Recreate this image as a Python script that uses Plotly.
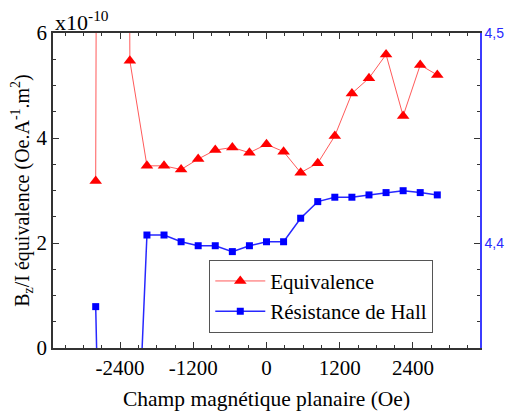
import plotly.graph_objects as go

# planar field (Oe)
field = [-2800, -2520, -2240, -1960, -1680, -1400, -1120, -840, -560, -280, 0,
         280, 560, 840, 1120, 1400, 1680, 1960, 2240, 2520, 2800]

# B_z/I equivalence (x1e-10 Oe.A^-1.m^2) - point at -2520 is off scale
equivalence = [3.18, 120.0, 5.47, 3.47, 3.47, 3.40, 3.60, 3.77, 3.82, 3.72, 3.88,
               3.74, 3.34, 3.52, 4.04, 4.85, 5.14, 5.59, 4.42, 5.39, 5.20]

# Hall resistance (right axis) - points at -2520 / -2240 are below scale
hall = [4.3697, 4.00, 4.213, 4.4038, 4.4038, 4.4006, 4.3987, 4.3987, 4.3959, 4.3987, 4.4006,
        4.4006, 4.4118, 4.4197, 4.4218, 4.4218, 4.4229, 4.4240, 4.4249, 4.4240, 4.4229]

x_ticks = [-2400, -1200, 0, 1200, 2400]
x_labels = ["-2400", "-1200", "0", "1200", "2400"]
y2_ticks = [4.4, 4.45, 4.5]
y2_labels = ["4,4", "", "4,5"]

serif = "Liberation Serif, Times New Roman, serif"

fig = go.Figure()

fig.add_trace(go.Scatter(
    x=field, y=equivalence, name="Equivalence",
    mode="lines+markers",
    line=dict(color="rgb(255,90,90)", width=1),
    marker=dict(symbol="triangle-up", color="red", size=11),
))

fig.add_trace(go.Scatter(
    x=field, y=hall, name="Résistance de Hall", yaxis="y2",
    mode="lines+markers",
    line=dict(color="rgb(40,40,255)", width=1.5),
    marker=dict(symbol="square", color="blue", size=7),
))

fig.update_layout(
    width=512, height=417,
    margin=dict(l=53, r=32, t=33, b=69),
    plot_bgcolor="white", paper_bgcolor="white",
    font=dict(family=serif, size=21, color="black"),
    showlegend=True,
    legend=dict(
        x=0.366, y=0.28, xanchor="left", yanchor="top",
        bgcolor="white", bordercolor="#555", borderwidth=1,
        font=dict(family=serif, size=21),
        itemwidth=50, tracegroupgap=0,
    ),
    xaxis=dict(
        range=[-3500, 3500], tickvals=x_ticks, ticktext=x_labels, automargin=False,
        ticks="inside", ticklen=6, tickcolor="#333",
        tickfont=dict(family=serif, size=21),
        minor=dict(dtick=300, ticks="inside", ticklen=3, tickcolor="#333"),
        showline=True, linecolor="#333", linewidth=1.5, mirror="ticks",
        showgrid=False, zeroline=False,
        title=dict(text="Champ magnétique planaire (Oe)", standoff=12,
                   font=dict(family=serif, size=21.5)),
    ),
    yaxis=dict(
        range=[0, 6], dtick=2, automargin=False,
        ticks="inside", ticklen=6, tickcolor="#333",
        tickfont=dict(family=serif, size=21),
        minor=dict(dtick=0.5, ticks="inside", ticklen=3, tickcolor="#333"),
        showline=True, linecolor="#333", linewidth=1.5,
        showgrid=False, zeroline=False,
        title=dict(text="B<sub>z</sub>/I équivalence (Oe.A<sup>-1</sup>.m<sup>2</sup>)",
                   standoff=2, font=dict(family=serif, size=20)),
    ),
    yaxis2=dict(
        overlaying="y", side="right", range=[4.35, 4.5], automargin=False,
        tickvals=y2_ticks, ticktext=y2_labels,
        ticks="inside", ticklen=6, tickcolor="#333",
        minor=dict(dtick=0.0125, ticks="inside", ticklen=3, tickcolor="#333"),
        showline=True, linecolor="rgb(60,60,255)", linewidth=1.5,
        showgrid=False, zeroline=False,
        tickfont=dict(family="Liberation Sans, Arial, sans-serif", size=14,
                      color="rgb(40,40,255)"),
    ),
    annotations=[dict(
        text="x10<sup>-10</sup>", xref="paper", yref="paper",
        x=0, y=1, xanchor="left", yanchor="bottom", showarrow=False,
        font=dict(family=serif, size=22), yshift=-4,
    )],
)

fig.write_html("out.html", config={"displayModeBar": False},
               post_script="document.body.style.margin='0';")
